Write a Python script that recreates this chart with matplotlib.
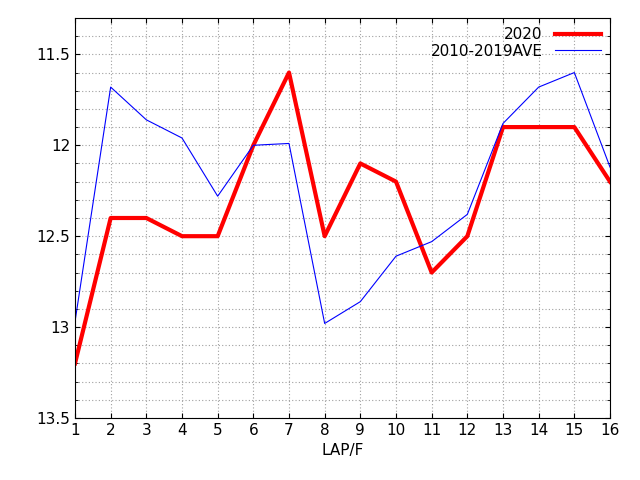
import matplotlib
matplotlib.use("Agg")
import matplotlib.pyplot as plt
import numpy as np

laps = list(range(1, 17))
y2020 = [13.2, 12.4, 12.4, 12.5, 12.5, 12.0, 11.6, 12.5, 12.1, 12.2, 12.7, 12.5, 11.9, 11.9, 11.9, 12.2]
yave = [12.97, 11.68, 11.86, 11.96, 12.28, 12.0, 11.99, 12.98, 12.86, 12.61, 12.53, 12.38, 11.88, 11.68, 11.6, 12.12]

fig = plt.figure(figsize=(6.4, 4.8), dpi=100)
ax = fig.add_axes([75/640, 1-418/480, 535/640, 400/480])
ax.plot(laps, y2020, color="#ff0000", lw=3, label="2020")
ax.plot(laps, yave, color="#0000ff", lw=0.8, label="2010-2019AVE")
ax.set_xlim(1, 16)
ax.set_ylim(13.5, 11.3)
ax.set_xticks(laps)
ax.set_yticks([11.5, 12, 12.5, 13, 13.5])
ax.set_yticklabels(["11.5", "12", "12.5", "13", "13.5"])
ax.set_yticks(np.arange(11.3, 13.5, 0.1), minor=True)
ax.grid(True, which="both", color="#a0a0a0", ls=(0, (1, 2)), lw=0.8)
ax.tick_params(direction="in", which="both", top=True, right=True, labelsize=11)
ax.set_xlabel("LAP/F", fontsize=11)
leg = ax.legend(loc="upper right", markerfirst=False, frameon=False, fontsize=11,
                handlelength=3, borderaxespad=0.2, labelspacing=0.1)
for t in leg.get_texts():
    t.set_ha("right")
fig.savefig("out.png", dpi=100)
